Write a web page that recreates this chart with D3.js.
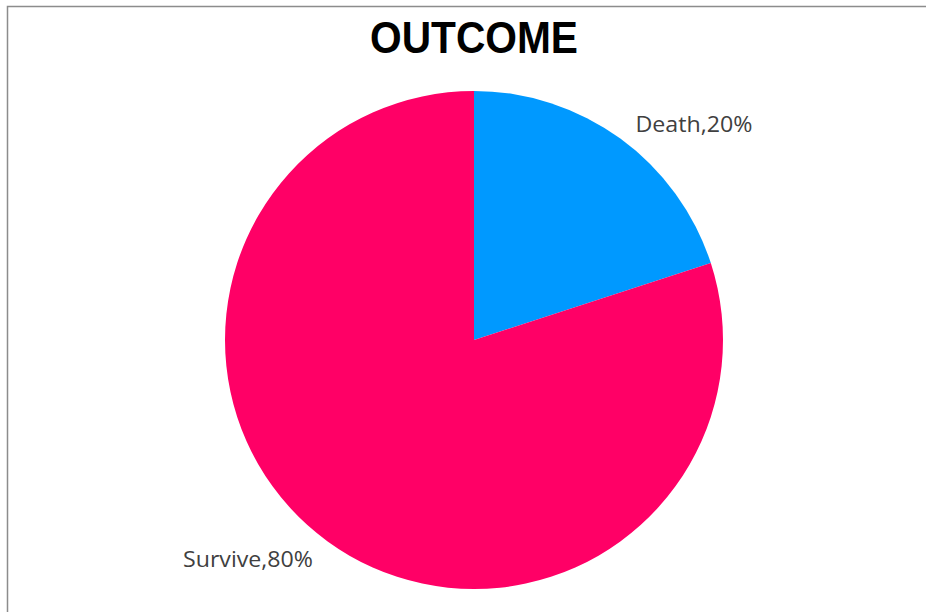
<!DOCTYPE html>
<html>
<head>
<meta charset="utf-8">
<script src="https://cdn.jsdelivr.net/npm/d3@7"></script>
<style>
  html, body { margin: 0; padding: 0; background: #fff; }
  svg { display: block; }
</style>
</head>
<body>
<svg id="chart" width="926" height="612"></svg>
<script>
// ---- data ----
const categories = ["Death", "Survive"];
const values = [20, 80];
const colors = ["#0099FF", "#FF0066"];
const title = "OUTCOME";

// ---- layout ----
const W = 926, H = 612;
const cx = 474, cy = 340, R = 249;

const svg = d3.select("#chart");

// frame
svg.append("rect").attr("x", 0).attr("y", 0).attr("width", W).attr("height", H).attr("fill", "#fff");
svg.append("path")
  .attr("d", `M7.5,${H} V6.5 H${W}`)
  .attr("fill", "none").attr("stroke", "#8c8c8c").attr("stroke-width", 1.5);

// title
svg.append("text")
  .attr("x", cx).attr("y", 53)
  .attr("text-anchor", "middle")
  .attr("font-family", "'Liberation Sans', Arial, sans-serif")
  .attr("font-weight", "bold")
  .attr("font-size", 45)
  .attr("textLength", 208)
  .attr("lengthAdjust", "spacingAndGlyphs")
  .attr("fill", "#000")
  .text(title);

const pie = d3.pie().sort(null).value(d => d)(values);
const arc = d3.arc().innerRadius(0).outerRadius(R);

const g = svg.append("g").attr("transform", `translate(${cx},${cy})`);
g.selectAll("path.slice")
  .data(pie)
  .join("path")
  .attr("class", "slice")
  .attr("d", arc)
  .attr("fill", (d, i) => colors[i]);

// labels: placed outside the slice on the diagonal of its quadrant (best-fit style)
const total = d3.sum(values);
g.selectAll("text.lbl")
  .data(pie)
  .join("text")
  .attr("class", "lbl")
  .each(function(d) {
    const mid = (d.startAngle + d.endAngle) / 2;
    const sx = Math.sin(mid) >= 0 ? 1 : -1;
    const sy = Math.cos(mid) >= 0 ? -1 : 1;
    const x = sx > 0 ? 220 : -226;
    const y = sy < 0 ? -208 : 227;
    d3.select(this).attr("x", x).attr("y", y);
  })
  .attr("text-anchor", "middle")
  .attr("font-family", "'Open Sans', 'Liberation Sans', Arial, sans-serif")
  .attr("font-size", 22)
  .attr("fill", "#404040")
  .text((d, i) => `${categories[i]},${Math.round(values[i] / total * 100)}%`)
  .each(function(d, i) {
    d3.select(this).attr("textLength", i === 0 ? 117 : 130).attr("lengthAdjust", "spacingAndGlyphs");
  });
</script>
</body>
</html>
